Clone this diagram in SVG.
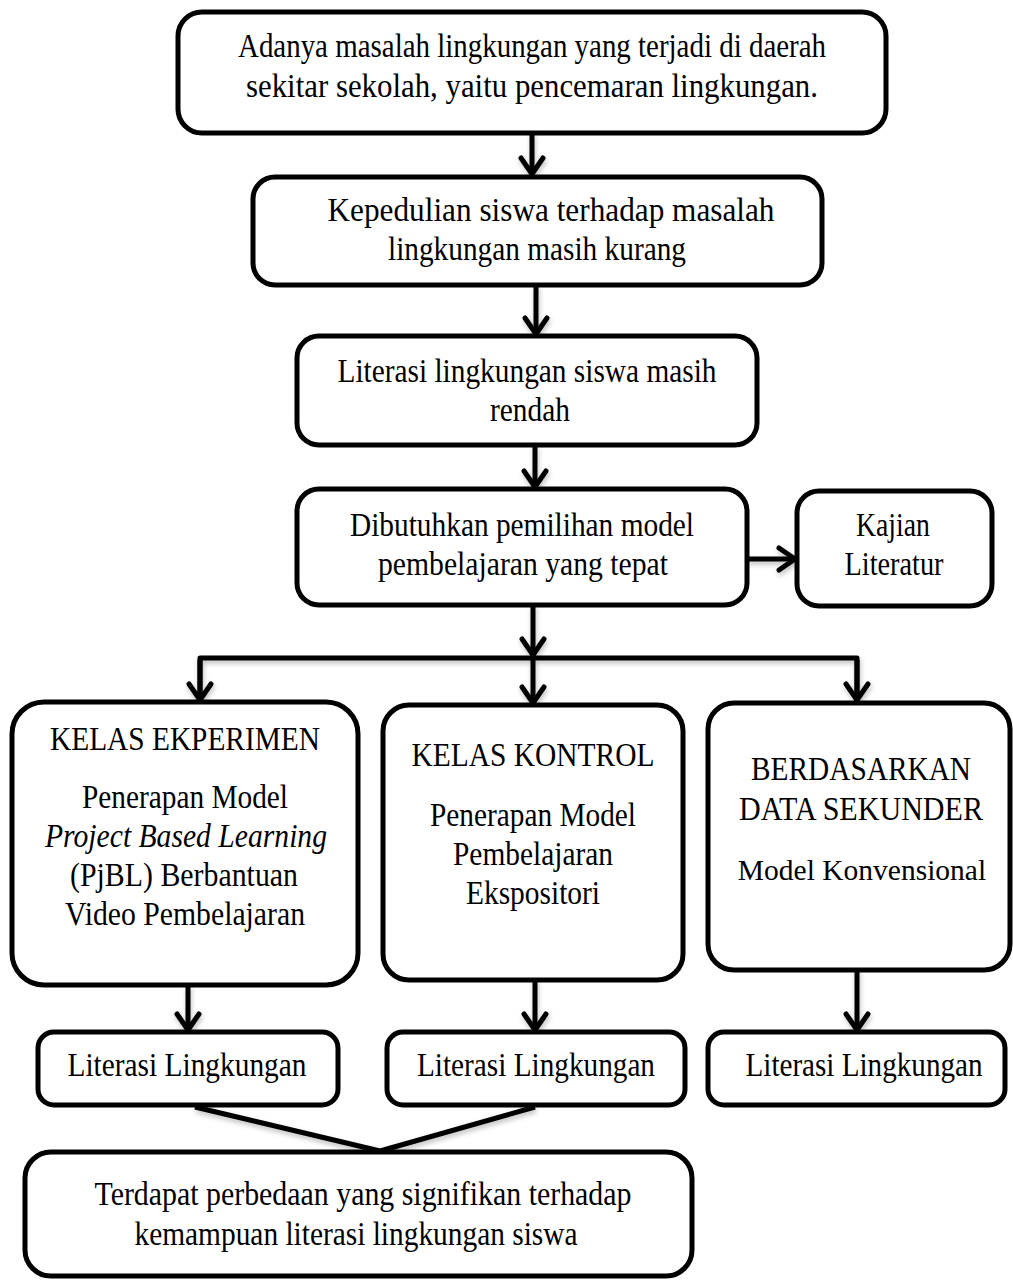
<svg xmlns="http://www.w3.org/2000/svg" width="1013" height="1280" viewBox="0 0 1013 1280">
<style>
.box{fill:#fff;stroke:#000;stroke-width:5}
.t{font-family:"Liberation Serif","Times New Roman",serif;font-size:33px;fill:#000;text-anchor:middle}
.i{font-style:italic}
.s{font-size:29.5px}
.c{fill:none;stroke:#000;stroke-width:5;stroke-linejoin:round}
</style>
<defs>
<marker id="ah" markerUnits="userSpaceOnUse" viewBox="0 0 22 28" refX="19" refY="14" markerWidth="22" markerHeight="28" orient="auto">
<path d="M3,3 L19,14 L3,25" fill="none" stroke="#000" stroke-width="5" stroke-linejoin="round" stroke-linecap="round"/>
</marker>
<filter id="sh" x="-20%" y="-20%" width="140%" height="140%">
<feDropShadow dx="1" dy="3" stdDeviation="2.5" flood-color="#000" flood-opacity="0.25"/>
</filter>
</defs>
<rect width="1013" height="1280" fill="#fff"/>
<g id="connectors" filter="url(#sh)">
<line class="c" x1="532" y1="133" x2="532" y2="174" marker-end="url(#ah)"/>
<line class="c" x1="536" y1="285" x2="536" y2="334" marker-end="url(#ah)"/>
<line class="c" x1="535" y1="445" x2="535" y2="487" marker-end="url(#ah)"/>
<line class="c" x1="747" y1="559" x2="795" y2="559" marker-end="url(#ah)"/>
<line class="c" x1="533" y1="605" x2="533" y2="655" marker-end="url(#ah)"/>
<polyline class="c" points="200,700 200,658 857,658 857,700"/>
<line class="c" x1="200" y1="660" x2="200" y2="700" marker-end="url(#ah)"/>
<line class="c" x1="533" y1="655" x2="533" y2="703" marker-end="url(#ah)"/>
<line class="c" x1="857" y1="660" x2="857" y2="700" marker-end="url(#ah)"/>
<line class="c" x1="188" y1="985" x2="188" y2="1030" marker-end="url(#ah)"/>
<line class="c" x1="535" y1="980" x2="535" y2="1030" marker-end="url(#ah)"/>
<line class="c" x1="857" y1="970" x2="857" y2="1030" marker-end="url(#ah)"/>
<polyline class="c" points="195,1107 380,1151 535,1107"/>
</g>
<g id="n1"><rect class="box" x="178" y="12" width="708" height="121" rx="24"/>
<text class="t" x="532" y="57" textLength="588" lengthAdjust="spacingAndGlyphs">Adanya masalah lingkungan yang terjadi di daerah</text>
<text class="t" x="532" y="97" textLength="572" lengthAdjust="spacingAndGlyphs">sekitar sekolah, yaitu pencemaran lingkungan.</text></g>
<g id="n2"><rect class="box" x="253" y="177" width="569" height="108" rx="22"/>
<text class="t" x="551" y="221" textLength="447" lengthAdjust="spacingAndGlyphs">Kepedulian siswa terhadap masalah</text>
<text class="t" x="537" y="260" textLength="298" lengthAdjust="spacingAndGlyphs">lingkungan masih kurang</text></g>
<g id="n3"><rect class="box" x="297" y="336" width="460" height="109" rx="22"/>
<text class="t" x="527" y="382" textLength="379" lengthAdjust="spacingAndGlyphs">Literasi lingkungan siswa masih</text>
<text class="t" x="530" y="421" textLength="80" lengthAdjust="spacingAndGlyphs">rendah</text></g>
<g id="n4"><rect class="box" x="297" y="489" width="450" height="116" rx="22"/>
<text class="t" x="522" y="536" textLength="344" lengthAdjust="spacingAndGlyphs">Dibutuhkan pemilihan model</text>
<text class="t" x="523" y="575" textLength="290" lengthAdjust="spacingAndGlyphs">pembelajaran yang tepat</text></g>
<g id="n5"><rect class="box" x="797" y="491" width="195" height="115" rx="22"/>
<text class="t" x="893" y="536" textLength="74" lengthAdjust="spacingAndGlyphs">Kajian</text>
<text class="t" x="894" y="575" textLength="99" lengthAdjust="spacingAndGlyphs">Literatur</text></g>
<g id="n6"><rect class="box" x="12" y="702" width="346" height="283" rx="32"/>
<text class="t" x="185" y="750" textLength="270" lengthAdjust="spacingAndGlyphs">KELAS EKPERIMEN</text>
<text class="t" x="185" y="808" textLength="206" lengthAdjust="spacingAndGlyphs">Penerapan Model</text>
<text class="t i" x="186" y="847" textLength="282" lengthAdjust="spacingAndGlyphs">Project Based Learning</text>
<text class="t" x="184" y="886" textLength="228" lengthAdjust="spacingAndGlyphs">(PjBL) Berbantuan</text>
<text class="t" x="185" y="925" textLength="240" lengthAdjust="spacingAndGlyphs">Video Pembelajaran</text></g>
<g id="n7"><rect class="box" x="383" y="705" width="300" height="275" rx="26"/>
<text class="t" x="533" y="766" textLength="243" lengthAdjust="spacingAndGlyphs">KELAS KONTROL</text>
<text class="t" x="533" y="826" textLength="206" lengthAdjust="spacingAndGlyphs">Penerapan Model</text>
<text class="t" x="533" y="865" textLength="160" lengthAdjust="spacingAndGlyphs">Pembelajaran</text>
<text class="t" x="533" y="904" textLength="134" lengthAdjust="spacingAndGlyphs">Ekspositori</text></g>
<g id="n8"><rect class="box" x="708" y="703" width="302" height="267" rx="26"/>
<text class="t" x="861" y="780" textLength="220" lengthAdjust="spacingAndGlyphs">BERDASARKAN</text>
<text class="t" x="861" y="820" textLength="244" lengthAdjust="spacingAndGlyphs">DATA SEKUNDER</text>
<text class="t s" x="862" y="880">Model Konvensional</text></g>
<g id="n9"><rect class="box" x="38" y="1032" width="300" height="73" rx="16"/>
<text class="t" x="187" y="1076" textLength="239" lengthAdjust="spacingAndGlyphs">Literasi Lingkungan</text></g>
<g id="n10"><rect class="box" x="387" y="1032" width="298" height="73" rx="16"/>
<text class="t" x="536" y="1076" textLength="238" lengthAdjust="spacingAndGlyphs">Literasi Lingkungan</text></g>
<g id="n11"><rect class="box" x="708" y="1032" width="297" height="73" rx="16"/>
<text class="t" x="864" y="1076" textLength="237" lengthAdjust="spacingAndGlyphs">Literasi Lingkungan</text></g>
<g id="n12"><rect class="box" x="25" y="1152" width="667" height="124" rx="26"/>
<text class="t" x="363" y="1205" textLength="537" lengthAdjust="spacingAndGlyphs">Terdapat perbedaan yang signifikan terhadap</text>
<text class="t" x="356" y="1245" textLength="443" lengthAdjust="spacingAndGlyphs">kemampuan literasi lingkungan siswa</text></g>
</svg>
